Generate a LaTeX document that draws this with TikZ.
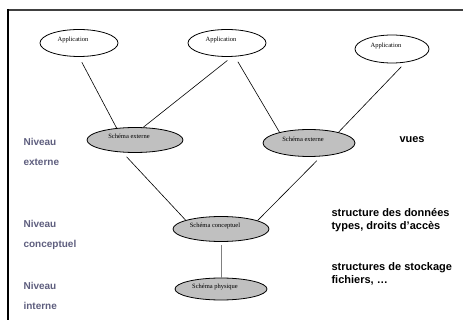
\documentclass[tikz,border=0pt]{standalone}
\usepackage{fontspec}
\setmainfont{Liberation Sans}
\newfontfamily\ellfont{Liberation Serif}
\usepackage{xcolor}
\usetikzlibrary{shapes.geometric}
\definecolor{framegray}{HTML}{404040}
\definecolor{schemagray}{HTML}{C0C0C0}
\definecolor{levelcolor}{HTML}{5E5E7E}
\newcommand{\elltext}[1]{\raisebox{1pt}[0pt][0pt]{#1}\hspace*{12pt}}

\begin{document}
\begin{tikzpicture}[
    app/.style = {draw, ellipse, line width = 0.8pt, inner sep = 0pt, minimum width = 78pt, minimum height = 27pt, font = \ellfont\fontsize{6.5}{7}\selectfont},
    schema/.style = {app, fill = schemagray, minimum width = 96pt, minimum height = 25pt},
    level/.style = {anchor = west, align = left, text = levelcolor, font = \bfseries\fontsize{10}{20}\selectfont},
    note/.style = {anchor = west, align = left, font = \bfseries\fontsize{11}{13.5}\selectfont},
    link/.style = {line width = 0.6pt, shorten <= 6pt}
]
        \useasboundingbox (0pt, 0pt) rectangle (463pt, -320pt);

        % Frame
        \draw [framegray, line width = 2pt] (7pt, -10pt) -- (463pt, -10pt);
        \draw [line width = 2pt] (8pt, -9pt) -- (8pt, -320pt);

        % Nodes
        \node [app] (app1) at (79pt, -43pt) {\elltext{Application}};
        \node [app] (app2) at (227pt, -43pt) {\elltext{Application}};
        \node [app, minimum width = 74pt, minimum height = 28pt] (app3) at (392pt, -49pt) {\elltext{Application}};
        \node [schema] (ext1) at (135pt, -140pt) {\elltext{Schéma externe}};
        \node [schema, minimum width = 92pt, minimum height = 27pt] (ext2) at (309pt, -143pt) {\elltext{Schéma externe}};
        \node [schema] (conc) at (221pt, -229pt) {\elltext{Schéma conceptuel}};
        \node [schema, minimum width = 92pt, minimum height = 22pt] (phys) at (221pt, -289pt) {\elltext{Schéma physique}};

        % Levels
        \node [level] (lvlext) at (20pt, -152pt) {Niveau\\externe};
        \node [level] (lvlconc) at (20pt, -235pt) {Niveau\\conceptuel};
        \node [level] (lvlint) at (20pt, -296pt) {Niveau\\interne};

        % Notes
        \node [note] (vues) at (396pt, -140pt) {vues};
        \node [note] (donnees) at (328pt, -220pt) {structure des données\\types, droits d’accès};
        \node [note] (stockage) at (328pt, -274pt) {structures de stockage\\fichiers, \ldots};

        % Lines
        \draw [link] (app1.south) -- (ext1.147);
        \draw [link] (app2.290) -- (ext1.57);
        \draw [link] (app2.300) -- (ext2.160);
        \draw [link] (app3.315) -- (ext2.20);
        \draw [link] (ext1.225) -- (conc.166);
        \draw [link] (ext2.312) -- (conc.13);
        \draw [link, gray, line width = 0.8pt, shorten <= 3pt] (conc) -- (phys);

    \end{tikzpicture}
\end{document}
